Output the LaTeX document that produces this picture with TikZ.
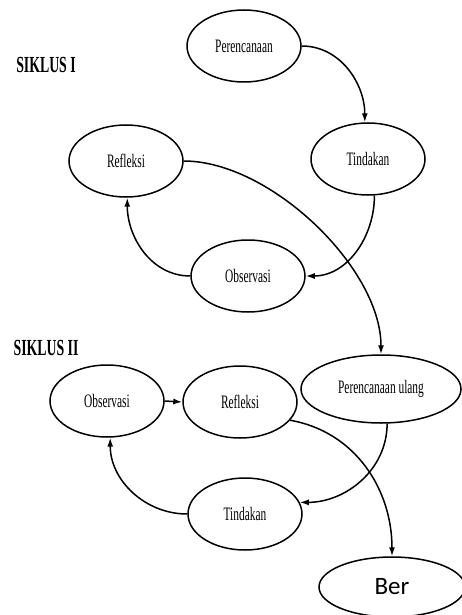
\documentclass[tikz,border=0pt]{standalone}
\usepackage{fontspec}
\setmainfont{Liberation Serif}
\newfontfamily\narrowfont[FakeStretch=0.6]{Liberation Serif}
\newfontfamily\berfont{Carlito}
\def\stagew{114pt}
\usepackage{tikz}
\usetikzlibrary{shapes.geometric}
\usetikzlibrary{arrows.meta}

\begin{document}
\begin{tikzpicture}[x=1pt,y=-1pt,line width=1.5pt,>={Latex[length=9pt,width=6pt]}]
		\tikzstyle{stage}=[ellipse,draw=black,minimum width=\stagew,minimum height=72pt,inner sep=0pt,font=\narrowfont\fontsize{19}{22}\selectfont]
		\tikzstyle{wide stage}=[stage, minimum width=160pt, minimum height=68pt]
		\tikzstyle{title}=[font=\narrowfont\bfseries\fontsize{23}{26}\selectfont]
		\tikzstyle{link}=[->,draw=black]
		
		\useasboundingbox (0,0) rectangle (461,615);
		
		% Draw the titles
		\node[title] (t-1) at (46,65) {SIKLUS I};
		\node[title] (t-2) at (46,348) {SIKLUS II};
		
		% Draw the first cycle
		\foreach \name / \x / \y / \txt in {P/244/46/Perencanaan, T/368/159/Tindakan, R/126/161/Refleksi, O/248/276/Observasi}
		\node[stage] (I-\name) at (\x,\y) {\txt};
		
		% Draw the second cycle
		\foreach \name / \x / \y / \txt in {O/107/401/Observasi, R/240/402/Refleksi, T/245/514/Tindakan}
		\node[stage] (II-\name) at (\x,\y) {\txt};
		\node[wide stage] (II-P) at (381,389) {Perencanaan ulang};
		
		% The cut off node
		\node[ellipse,draw=black,minimum width=146pt,minimum height=60pt,inner sep=0pt,font=\berfont\fontsize{25}{28}\selectfont] (Ber) at (392,587) {Ber};
		
		% Connect first cycle
		\draw[link] (I-P.east) to[out=0,in=90] (I-T.95);
		\draw[link] (I-T.-80) to[out=-90,in=0] (I-O.east);
		\draw[link] (I-O.west) to[out=180,in=-90] (I-R.-88);
		
		% Go on to the second cycle
		\draw[link] (I-R.east) to[out=0,in=90,looseness=0.8] (II-P.north);
		
		% Connect second cycle
		\draw[link] (II-O.east) -- (II-R.west);
		\draw[link] (II-P.-80) to[out=-90,in=0] (II-T.12);
		\draw[link] (II-T.west) to[out=180,in=-90] (II-O.-85);
		\draw[link] (II-R.-20) to[out=-10,in=90] (Ber.north);
	
	\end{tikzpicture}
\end{document}
